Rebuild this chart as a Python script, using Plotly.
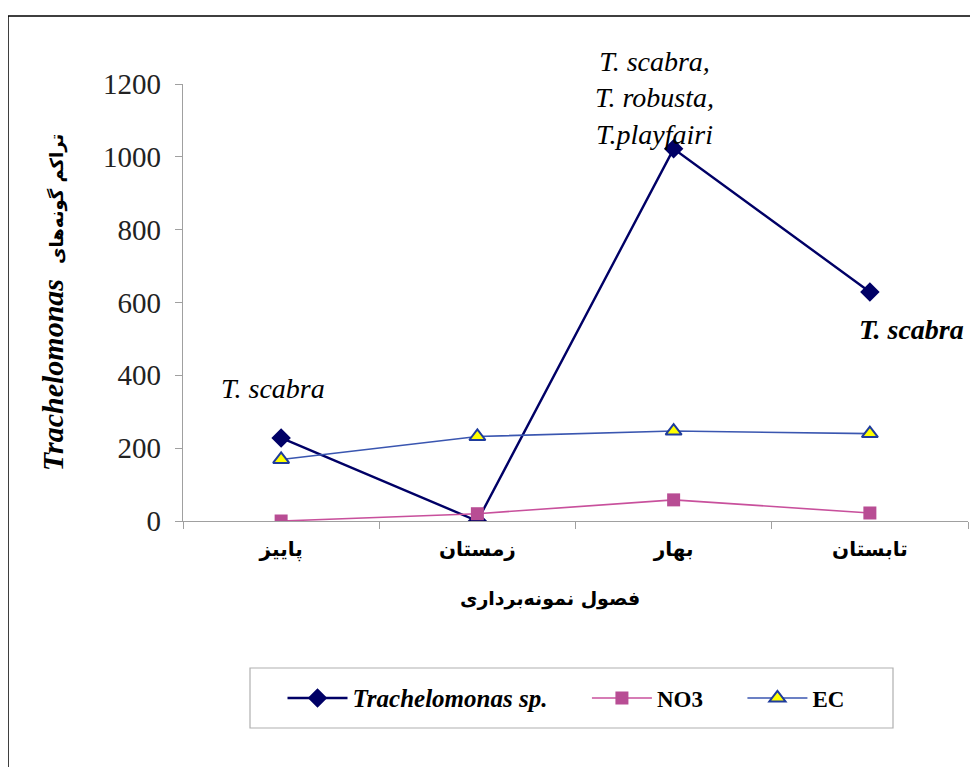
import plotly.graph_objects as go

seasons = ["پاییز", "زمستان", "بهار", "تابستان"]
trach = [228, 0, 1022, 629]
no3 = [0, 20, 58, 22]
ec = [169, 232, 247, 240]

W, H = 978, 767
OFF = 8  # page body margin
# plot area in page pixels
PL, PR, PT, PB = 183, 968, 84, 521
L, T = PL - OFF, PT - OFF
R, B = W - (PR - OFF), H - (PB - OFF)
pw, ph = PR - PL, PB - PT

def px(xp):
    return (xp - PL) / pw

def py(yp):
    return (PB - yp) / ph

serif = "Liberation Serif, Times New Roman, serif"
fa = "DejaVu Sans, Noto Sans, sans-serif"
pad = "&nbsp;" * 6

fig = go.Figure()
fig.add_trace(go.Scatter(
    x=seasons, y=trach, mode="lines+markers",
    name="<b><i><span style='font-size:25px'>Trachelomonas sp.</span></i></b>" + pad,
    line=dict(color="#000066", width=2.4),
    marker=dict(symbol="diamond", size=15, color="#000066")))
fig.add_trace(go.Scatter(
    x=seasons, y=no3, mode="lines+markers", name="<b>NO3</b>" + pad,
    line=dict(color="#C8509C", width=1.6),
    marker=dict(symbol="square", size=13, color="#B84D94")))
fig.add_trace(go.Scatter(
    x=seasons, y=ec, mode="lines+markers", name="<b>EC</b>",
    line=dict(color="#3A56B0", width=1.6),
    marker=dict(symbol="triangle-up", size=14, color="#FFFF00",
                line=dict(color="#1F3C9C", width=2))))

fig.update_layout(
    width=W, height=H,
    margin=dict(l=L, r=R, t=T, b=B),
    paper_bgcolor="white", plot_bgcolor="white",
    showlegend=True,
    legend=dict(orientation="h", x=px(566), xanchor="center", y=py(698), yanchor="middle",
                borderwidth=0, bgcolor="rgba(0,0,0,0)",
                font=dict(family=serif, size=23, color="black"), itemwidth=60),
    xaxis=dict(type="category", showgrid=False, showline=True, linecolor="#A0A0A0", linewidth=1.2,
               ticks="outside", tickson="boundaries", ticklen=7, tickcolor="#A0A0A0",
               tickfont=dict(family=fa, size=20, color="black"), ticklabelstandoff=10,
               tickprefix="<b>", ticksuffix="</b>",
               range=[-0.5, 3.5]),
    yaxis=dict(range=[0, 1200], dtick=200, showgrid=False, zeroline=False, showline=True,
               linecolor="#A0A0A0", linewidth=1.2, ticks="outside", ticklen=7, tickcolor="#A0A0A0",
               tickfont=dict(family=serif, size=29, color="#222222"), ticklabelstandoff=8,
               title=dict(text="<b><i>Trachelomonas</i></b>  <b><span style='font-family:DejaVu Sans;font-size:18px'>تراکم گونه‌های</span></b>",
                          font=dict(family=serif, size=30, color="black"), standoff=30)),
)

# x-axis title (placed left of plot centre, as in the original)
fig.add_annotation(xref="paper", yref="paper", x=px(550), y=py(612),
                   text="<b>فصول نمونه‌برداری</b>", showarrow=False,
                   font=dict(family=fa, size=19, color="black"))

fig.add_annotation(x=0, y=365, xref="x", yref="y", text="<i>T. scabra</i>", showarrow=False,
                   xshift=-8, font=dict(family=serif, size=28, color="black"))
fig.add_annotation(x=2, y=1020, xref="x", yref="y",
                   text="<i>T. scabra,</i><br><i>T. robusta,</i><br><i>T.playfairi</i>",
                   showarrow=False, xshift=-19, yshift=-2, yanchor="bottom",
                   font=dict(family=serif, size=28, color="black"))
fig.add_annotation(x=3, y=525, xref="x", yref="y", text="<b><i>T. scabra</i></b>", showarrow=False,
                   xshift=42, font=dict(family=serif, size=28, color="black"))

# outer frame
fig.add_shape(type="rect", xref="paper", yref="paper",
              x0=px(8), x1=px(975), y0=py(800), y1=py(16),
              line=dict(color="black", width=1.5))
# legend frame
fig.add_shape(type="rect", xref="paper", yref="paper",
              x0=px(250), x1=px(893), y0=py(728), y1=py(668),
              line=dict(color="#B0B0B0", width=1.2))

fig.write_html("out.html")
